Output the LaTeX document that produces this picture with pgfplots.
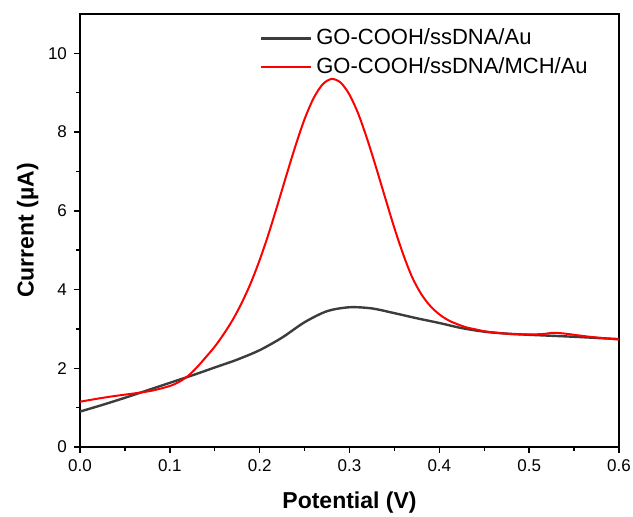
\documentclass[border=0pt]{standalone}
\usepackage{fontspec}
\setmainfont{Liberation Sans}
\usepackage{pgfplots}
\pgfplotsset{compat=1.18}

\definecolor{darkline}{HTML}{3C3C3C}

\begin{document}
\begin{tikzpicture}
\begin{axis}[
    name=main,
    scale only axis,
    width=269.5pt,
    height=216.5pt,
    xmin=0, xmax=0.6,
    ymin=0, ymax=11,
    xtick={0,0.1,...,0.6},
    ytick={0,2,4,6,8,10},
    minor tick num=1,
    tick pos=left,
    tick align=outside,
    major tick length=3pt,
    minor tick length=2pt,
    axis line style={line width=0.8pt},
    every tick/.style={line width=0.7pt, black},
    xticklabel style={/pgf/number format/.cd, fixed, fixed zerofill, precision=1},
    /pgf/number format/assume math mode=true,
    tick label style={font=\fontsize{8.5}{10}\selectfont},
    xlabel={\textbf{Potential (V)}},
    ylabel={\textbf{Current (µA)}},
    label style={font=\fontsize{11.5}{13}\selectfont},
    xlabel style={yshift=-3pt},
    ylabel style={yshift=-2pt},
    legend style={at={(0.322,0.985)}, anchor=north west, draw=none, fill=none,
        font=\fontsize{11}{13}\selectfont, row sep=1pt},
    legend cell align=left,
    legend image code/.code={\draw[#1] (0pt,0pt) -- (25pt,0pt);},
]
\addplot[darkline, line width=1.2pt, smooth] coordinates {
    (0,0.90) (0.025,1.07) (0.05,1.25) (0.075,1.44) (0.1,1.63) (0.125,1.82)
    (0.15,2.02) (0.175,2.22) (0.2,2.46) (0.225,2.78) (0.25,3.17)
    (0.275,3.45) (0.3,3.55) (0.325,3.52) (0.35,3.40) (0.375,3.27)
    (0.4,3.15) (0.425,3.02) (0.45,2.93) (0.475,2.88) (0.5,2.85)
    (0.55,2.80) (0.6,2.74)
};
\addlegendentry{GO-COOH/ssDNA/Au}
\addplot[red, line width=1pt, smooth] coordinates {
    (0,1.15) (0.02,1.23) (0.04,1.30) (0.06,1.36) (0.08,1.43) (0.1,1.55)
    (0.11,1.65) (0.12,1.80) (0.13,2.02) (0.14,2.28) (0.15,2.55)
    (0.16,2.87) (0.17,3.23) (0.18,3.66) (0.19,4.16) (0.20,4.75)
    (0.21,5.42) (0.22,6.16) (0.23,6.92) (0.24,7.66) (0.25,8.33)
    (0.26,8.86) (0.27,9.21) (0.28,9.35) (0.29,9.26) (0.30,8.95)
    (0.31,8.45) (0.32,7.80) (0.33,7.07) (0.34,6.31) (0.35,5.56)
    (0.36,4.88) (0.37,4.30) (0.38,3.88) (0.39,3.58) (0.40,3.37)
    (0.41,3.22) (0.42,3.12) (0.43,3.04) (0.44,2.99) (0.45,2.94)
    (0.46,2.91) (0.48,2.87) (0.50,2.86) (0.515,2.87) (0.527,2.90)
    (0.54,2.88) (0.56,2.82) (0.58,2.77) (0.60,2.73)
};
\addlegendentry{GO-COOH/ssDNA/MCH/Au}
\end{axis}
\pgfresetboundingbox
\path[use as bounding box] ([xshift=-40pt,yshift=-34.5pt]main.south west)
    rectangle ([xshift=7pt,yshift=7pt]main.north east);
\end{tikzpicture}
\end{document}
